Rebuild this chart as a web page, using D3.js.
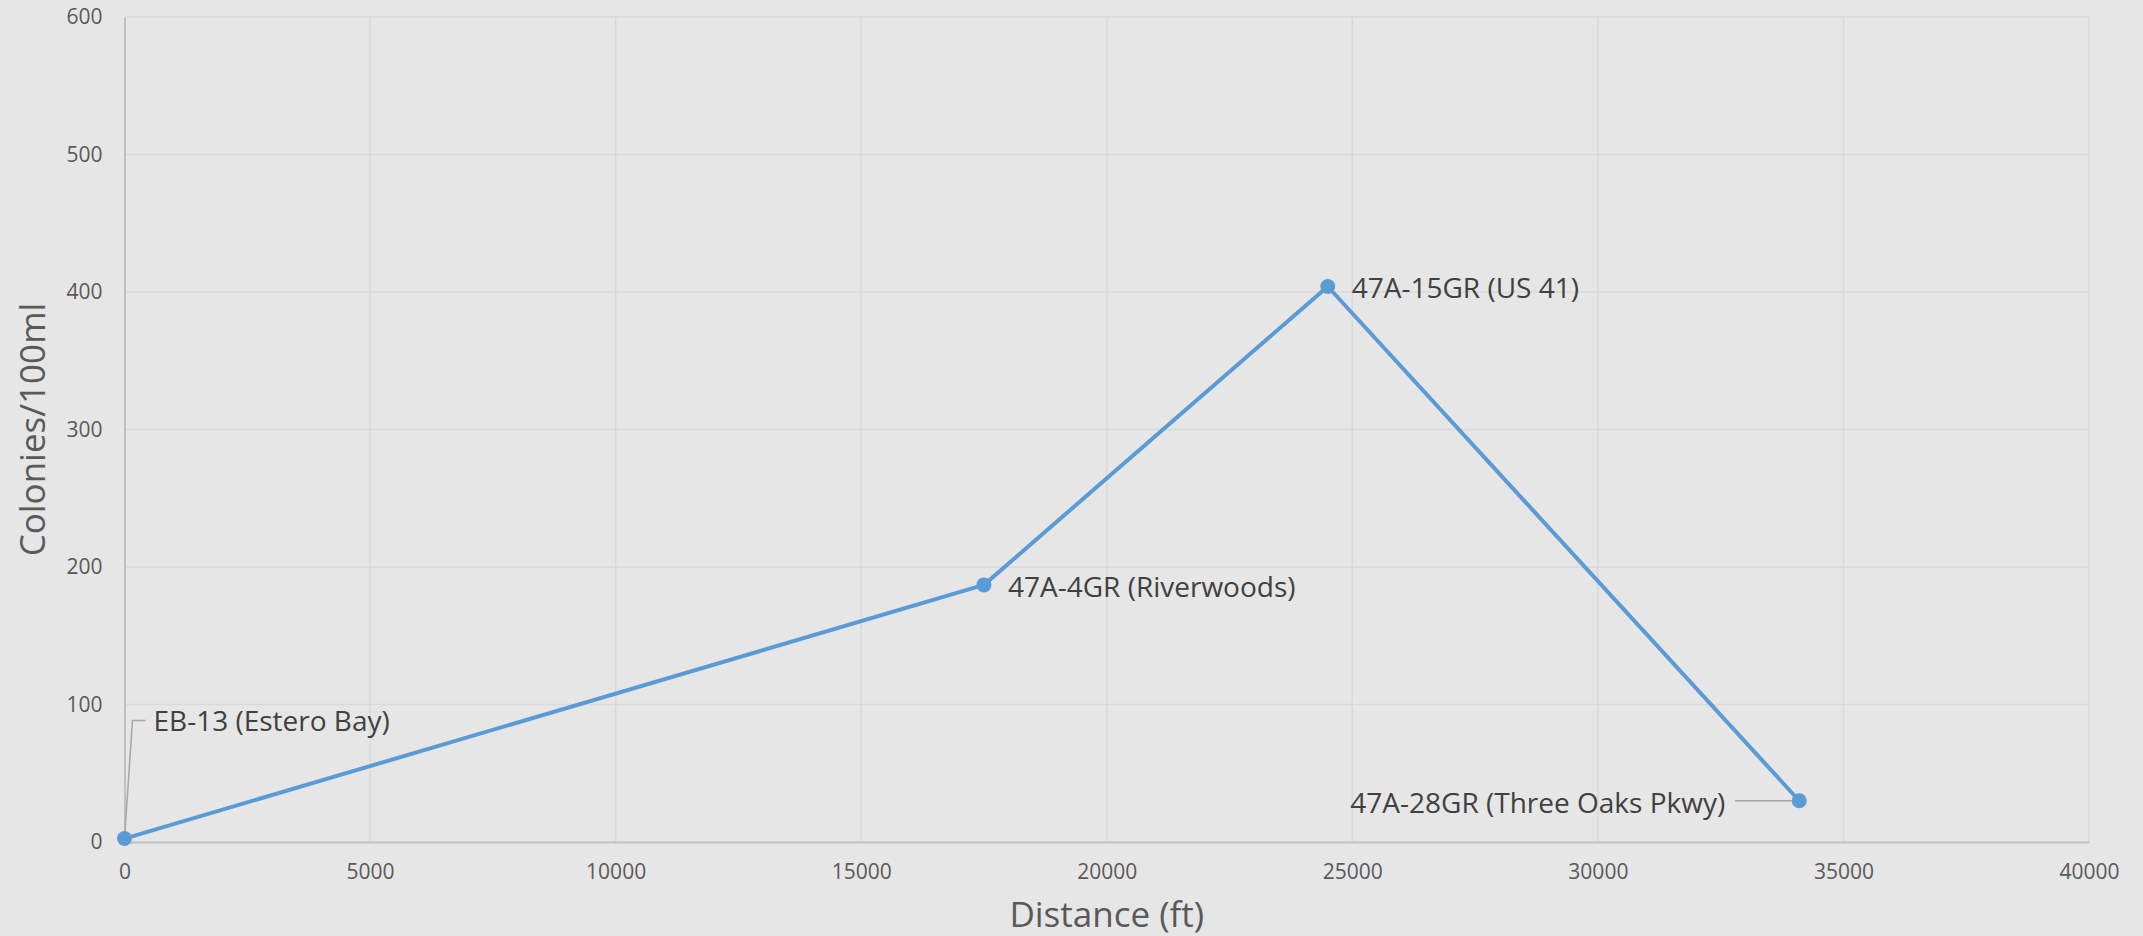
<!DOCTYPE html>
<html>
<head>
<meta charset="utf-8">
<script src="https://d3js.org/d3.v7.min.js"></script>
<style>
  html, body { margin: 0; padding: 0; background: #e7e6e6; }
  text { font-family: "Open Sans", "Noto Sans", sans-serif; }
</style>
</head>
<body>
<div id="chart"></div>
<script>
// chart data
const sites = ["EB-13 (Estero Bay)", "47A-4GR (Riverwoods)", "47A-15GR (US 41)", "47A-28GR (Three Oaks Pkwy)"];
const distance = [0, 17500, 24500, 34100];
const colonies = [2.5, 187, 404, 30];
const xTicks = [0, 5000, 10000, 15000, 20000, 25000, 30000, 35000, 40000];
const yTicks = [0, 100, 200, 300, 400, 500, 600];

const width = 2143;
const height = 936;
const margin = {top: 17, right: 54, bottom: 94, left: 124.5};

const svg = d3.select("#chart")
    .append("svg")
    .attr("width", width)
    .attr("height", height);

svg.append("rect")
    .attr("width", width)
    .attr("height", height)
    .attr("fill", "#e7e6e6");

const x = d3.scaleLinear().domain([0, 40000]).range([margin.left, width - margin.right]);
const y = d3.scaleLinear().domain([0, 600]).range([height - margin.bottom, margin.top]);

// gridlines
svg.append("g")
    .selectAll("line")
    .data(yTicks.slice(1))
    .enter().append("line")
        .attr("x1", x(0)).attr("x2", x(40000))
        .attr("y1", d => y(d)).attr("y2", d => y(d))
        .attr("stroke", "#d9d9d9").attr("stroke-width", 1.5);

svg.append("g")
    .selectAll("line")
    .data(xTicks.slice(1))
    .enter().append("line")
        .attr("x1", d => x(d)).attr("x2", d => x(d))
        .attr("y1", y(0)).attr("y2", y(600))
        .attr("stroke", "#d9d9d9").attr("stroke-width", 1.5);

// axes
const xAxis = svg.append("g")
    .attr("transform", `translate(0,${y(0)})`)
    .call(d3.axisBottom(x).tickValues(xTicks).tickSize(0).tickPadding(22).tickFormat(d3.format("d")));
const yAxis = svg.append("g")
    .attr("transform", `translate(${x(0)},0)`)
    .call(d3.axisLeft(y).tickValues(yTicks).tickSize(0).tickPadding(22).tickFormat(d3.format("d")));

[xAxis, yAxis].forEach(a => {
    a.select(".domain").attr("stroke", "#bfbfbf").attr("stroke-width", 2);
    a.selectAll("text").attr("fill", "#595959").attr("font-size", 21);
});
xAxis.selectAll("text").attr("dy", "0.71em");

// axis titles
svg.append("text")
    .attr("x", (x(0) + x(40000)) / 2)
    .attr("y", 927)
    .attr("text-anchor", "middle")
    .attr("font-size", 35)
    .attr("fill", "#595959")
    .text("Distance (ft)");

svg.append("text")
    .attr("transform", `translate(45,${(y(0) + y(600)) / 2}) rotate(-90)`)
    .attr("text-anchor", "middle")
    .attr("font-size", 35)
    .attr("fill", "#595959")
    .text("Colonies/100ml");

// series
const points = distance.map((d, i) => ({x: d, y: colonies[i], name: sites[i]}));

svg.append("path")
    .datum(points)
    .attr("fill", "none")
    .attr("stroke", "#5b9bd5")
    .attr("stroke-width", 4)
    .attr("stroke-linejoin", "round")
    .attr("d", d3.line().x(d => x(d.x)).y(d => y(d.y)));

// leader lines
const p0 = points[0], p3 = points[3];
svg.append("path")
    .attr("fill", "none")
    .attr("stroke", "#a6a6a6")
    .attr("stroke-width", 1.5)
    .attr("d", `M${x(p0.x)},${y(p0.y)} L${x(p0.x) + 8},${y(p0.y) - 118} L${x(p0.x) + 21},${y(p0.y) - 118}`);
svg.append("line")
    .attr("x1", x(p3.x) - 64).attr("x2", x(p3.x))
    .attr("y1", y(p3.y)).attr("y2", y(p3.y))
    .attr("stroke", "#a6a6a6").attr("stroke-width", 1.5);

svg.append("g")
    .selectAll("circle")
    .data(points)
    .enter().append("circle")
        .attr("cx", d => x(d.x))
        .attr("cy", d => y(d.y))
        .attr("r", 7.5)
        .attr("fill", "#5b9bd5");

// data labels
const labelPos = [
    {dx: 29, dy: -108, anchor: "start"},
    {dx: 24, dy: 12, anchor: "start"},
    {dx: 24, dy: 11, anchor: "start"},
    {dx: -74, dy: 12, anchor: "end"}
];
svg.append("g")
    .selectAll("text")
    .data(points)
    .enter().append("text")
        .attr("x", (d, i) => x(d.x) + labelPos[i].dx)
        .attr("y", (d, i) => y(d.y) + labelPos[i].dy)
        .attr("text-anchor", (d, i) => labelPos[i].anchor)
        .attr("font-size", 28)
        .attr("fill", "#404040")
        .text(d => d.name);
</script>
</body>
</html>
